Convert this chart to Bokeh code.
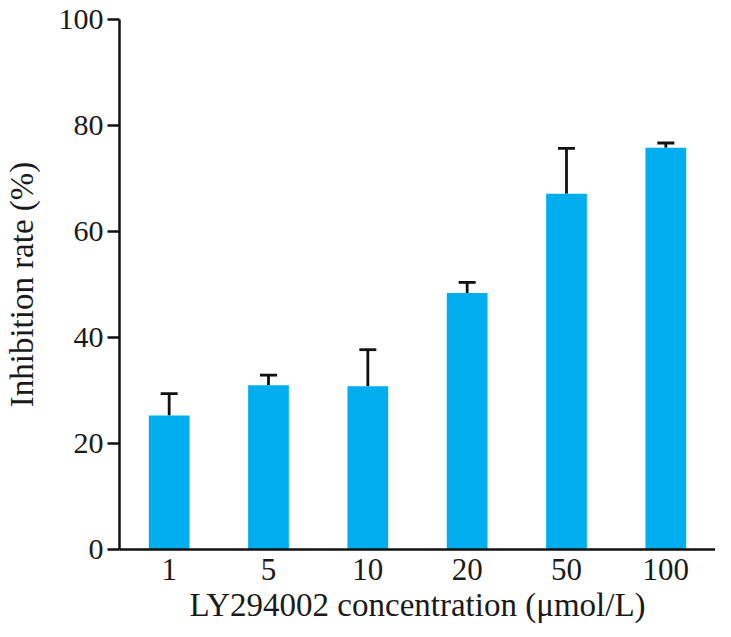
from bokeh.plotting import figure
from bokeh.models import ColumnDataSource, FixedTicker, Whisker, TeeHead, Range1d
from bokeh.embed import file_html
from bokeh.resources import INLINE

# data
concentrations = ["1", "5", "10", "20", "50", "100"]
inhibition = [25.3, 31.0, 30.8, 48.4, 67.1, 75.8]
sd = [4.1, 1.9, 6.9, 2.0, 8.6, 0.9]
y_ticks = [0, 20, 40, 60, 80, 100]

source = ColumnDataSource(data=dict(
    cat=concentrations,
    rate=inhibition,
    upper=[r + e for r, e in zip(inhibition, sd)],
))

font = "Liberation Serif"
bar_color = "#00AEEF"

p = figure(x_range=concentrations, width=715, height=634,
           output_backend="svg", toolbar_location=None,
           min_border_left=115, min_border_right=0,
           min_border_top=19, min_border_bottom=85)
p.y_range = Range1d(0, 100)

p.vbar(x="cat", top="rate", width=0.41, source=source,
       fill_color=bar_color, line_color=None)

err = Whisker(base="cat", lower="rate", upper="upper", source=source,
              line_color="#111111", line_width=2.8,
              upper_head=TeeHead(size=17, line_color="#111111", line_width=2.8),
              lower_head=None)
p.add_layout(err)

# frame styling
p.outline_line_color = None
p.xgrid.grid_line_color = None
p.ygrid.grid_line_color = None
p.background_fill_color = "white"

# x axis
p.xaxis.axis_label = "LY294002 concentration (\u03bcmol/L)"
p.xaxis.axis_line_width = 2.5
p.xaxis.axis_line_color = "#111111"
p.xaxis.major_tick_line_color = None
p.xaxis.major_tick_out = 0
p.xaxis.major_label_standoff = 9
p.xaxis.major_label_text_font = font
p.xaxis.major_label_text_font_size = "31px"
p.xaxis.major_label_text_color = "#1a1a1a"
p.xaxis.axis_label_standoff = 4
p.xaxis.axis_label_text_font = font
p.xaxis.axis_label_text_font_size = "33px"
p.xaxis.axis_label_text_font_style = "normal"
p.xaxis.axis_label_text_color = "#1a1a1a"

# y axis
p.yaxis.ticker = FixedTicker(ticks=y_ticks)
p.yaxis.axis_label = "Inhibition rate (%)"
p.yaxis.axis_line_width = 2.5
p.yaxis.axis_line_color = "#111111"
p.yaxis.major_tick_line_width = 2.5
p.yaxis.major_tick_line_color = "#111111"
p.yaxis.major_tick_in = 0
p.yaxis.major_tick_out = 12
p.yaxis.minor_tick_line_color = None
p.yaxis.major_label_standoff = 4
p.yaxis.major_label_text_font = font
p.yaxis.major_label_text_font_size = "30px"
p.yaxis.major_label_text_color = "#1a1a1a"
p.yaxis.axis_label_standoff = 16
p.yaxis.axis_label_text_font = font
p.yaxis.axis_label_text_font_size = "33px"
p.yaxis.axis_label_text_font_style = "normal"
p.yaxis.axis_label_text_color = "#1a1a1a"

open("out.html", "w").write(file_html(p, INLINE))
